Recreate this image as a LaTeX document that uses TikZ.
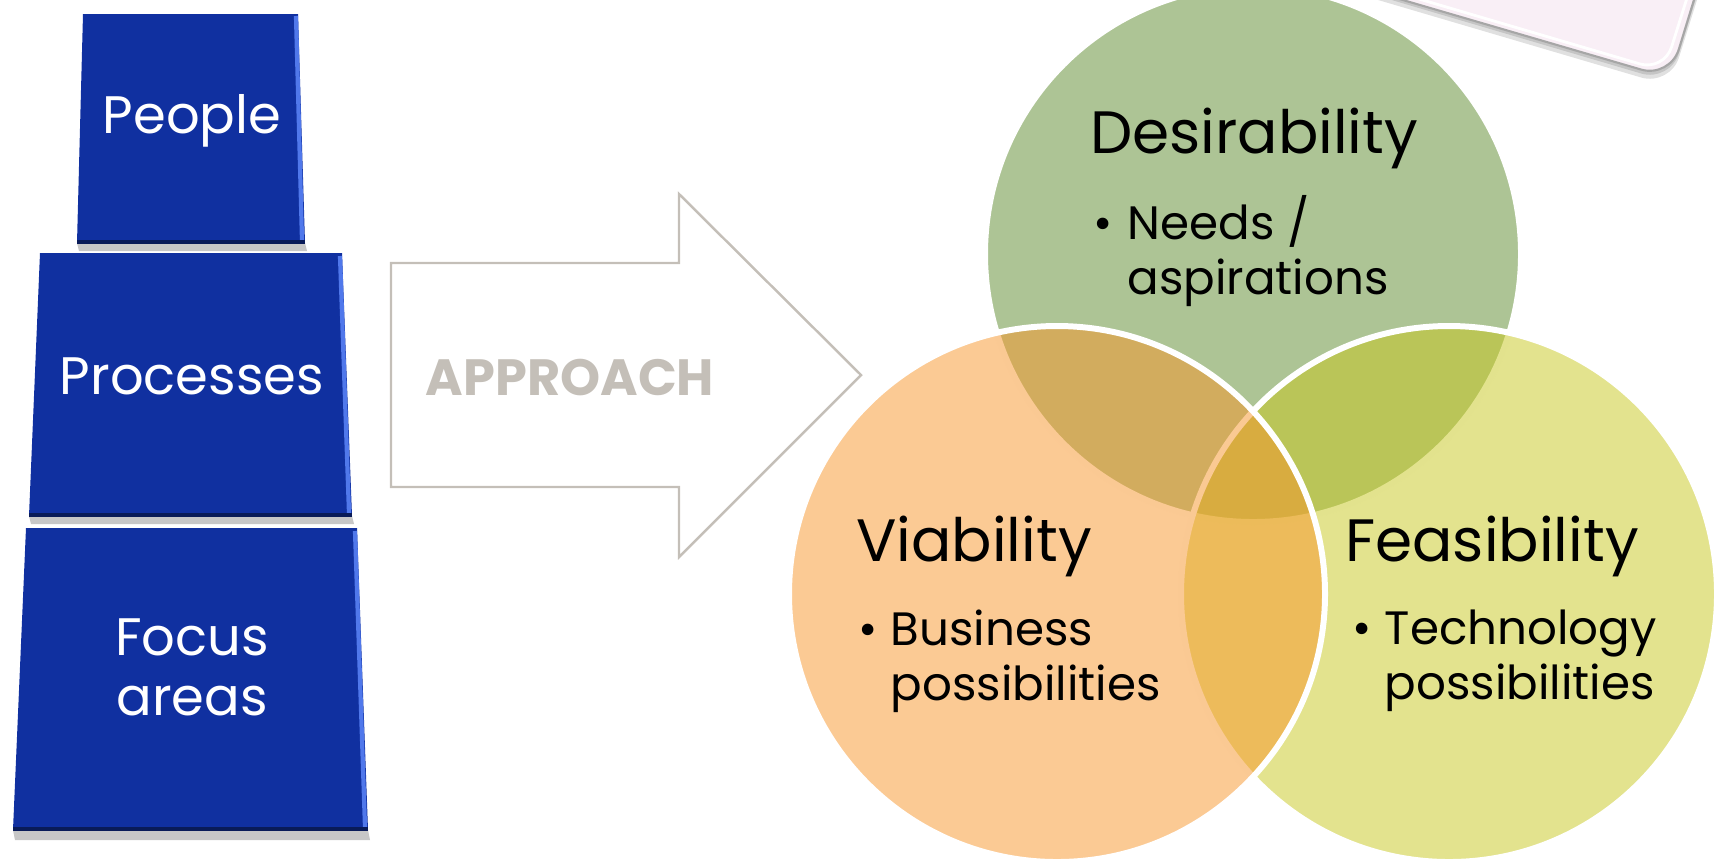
\documentclass[tikz,border=0pt]{standalone}
\usepackage{fontspec}
\setmainfont{Poppins}
\usetikzlibrary{calc}

\definecolor{boxblue}{RGB}{16,48,160}
\definecolor{boxedge}{RGB}{80,120,235}
\definecolor{arrowgray}{RGB}{196,191,184}
\definecolor{desgreen}{RGB}{91,137,43}
\definecolor{feasyellow}{RGB}{199,199,29}
\definecolor{viaorange}{RGB}{247,149,41}
\definecolor{notepink}{RGB}{249,239,246}

\begin{document}
\begin{tikzpicture}[x=0.01cm,y=-0.01cm,
  venn/.style={fill opacity=0.5,draw=white,line width=1.7pt},
  boxshadow/.style={fill=black,opacity=0.22},
  boxlabel/.style={text=white,inner sep=0,font=\fontsize{15}{17}\selectfont},
  venntitle/.style={inner sep=0,font=\fontsize{17}{20}\selectfont},
  vennitem/.style={inner sep=0,align=left,anchor=west,font=\fontsize{13.3}{15.6}\selectfont}]

\useasboundingbox (0,0) rectangle (1719,866);
\clip (0,0) rectangle (1719,866);

\fill[black,opacity=0.12,rounded corners=0.3cm] (1300,-23) -- (1670,86) -- (1718,-67) -- cycle;
\fill[black,opacity=0.12,rounded corners=0.3cm] (1300,-27) -- (1670,82) -- (1717,-69) -- cycle;
\draw[gray!70,fill=notepink,line width=0.6pt,rounded corners=0.3cm] (1300,-30) -- (1670,78) -- (1716,-72) -- cycle;
\draw[white,line width=0.8pt,rounded corners=0.25cm] (1300,-36) -- (1664,71) -- (1709,-72);

\fill[boxshadow] (77,243) -- (305,243) -- (307,251) -- (79,251) -- cycle;
\fill[boxblue] (83,14) -- (298,14) -- (305,243) -- (77,243) -- cycle;
\draw[boxedge,line width=1.2pt] (296,16) -- (302,240);
\draw[boxblue!55!black,line width=1pt] (77,242) -- (305,242);
\node[boxlabel] (people) at (192,121) {People};

\fill[boxshadow] (29,516) -- (352,516) -- (354,524) -- (31,524) -- cycle;
\fill[boxblue] (40,253) -- (342,253) -- (352,516) -- (29,516) -- cycle;
\draw[boxedge,line width=1.2pt] (340,256) -- (349,513);
\draw[boxblue!55!black,line width=1pt] (29,515) -- (352,515);
\node[boxlabel] (processes) at (192,376) {Processes};

\fill[boxshadow] (13,830) -- (368,830) -- (370,840) -- (15,840) -- cycle;
\fill[boxblue] (26,528) -- (357,528) -- (368,830) -- (13,830) -- cycle;
\draw[boxedge,line width=1.2pt] (355,531) -- (365,827);
\draw[boxblue!55!black,line width=1pt] (13,829) -- (368,829);
\node[boxlabel,align=center] (focus) at (192,667) {Focus\\[0pt]areas};

\draw[arrowgray,line width=0.7pt] (391,263) -- (679,263) -- (679,194) -- (861,375)
  -- (679,557) -- (679,487) -- (391,487) -- cycle;
\node[text=arrowgray,inner sep=0,font=\bfseries\fontsize{14.5}{17}\selectfont] (approach) at (570,378) {APPROACH};

\draw[venn,fill=desgreen] (1253,254) circle (268);
\draw[venn,fill=feasyellow] (1449,594) circle (268);
\draw[venn,fill=viaorange] (1057,594) circle (268);

\node[venntitle,anchor=base] (desir) at (1254,153) {Desirability};
\node[vennitem] (needs) at (1093,251) {\makebox[0.34cm][l]{\textbullet}Needs /\\\hspace*{0.34cm}aspirations};

\node[venntitle,anchor=base] (viab) at (974,561) {Viability};
\node[vennitem] (business) at (858,661) {\makebox[0.32cm][l]{\textbullet}Business\\\hspace*{0.32cm}possibilities};

\node[venntitle,anchor=base] (feas) at (1492,561) {Feasibility};
\node[vennitem] (techno) at (1352,661) {\makebox[0.32cm][l]{\textbullet}Technology\\\hspace*{0.32cm}possibilities};

\end{tikzpicture}
\end{document}
